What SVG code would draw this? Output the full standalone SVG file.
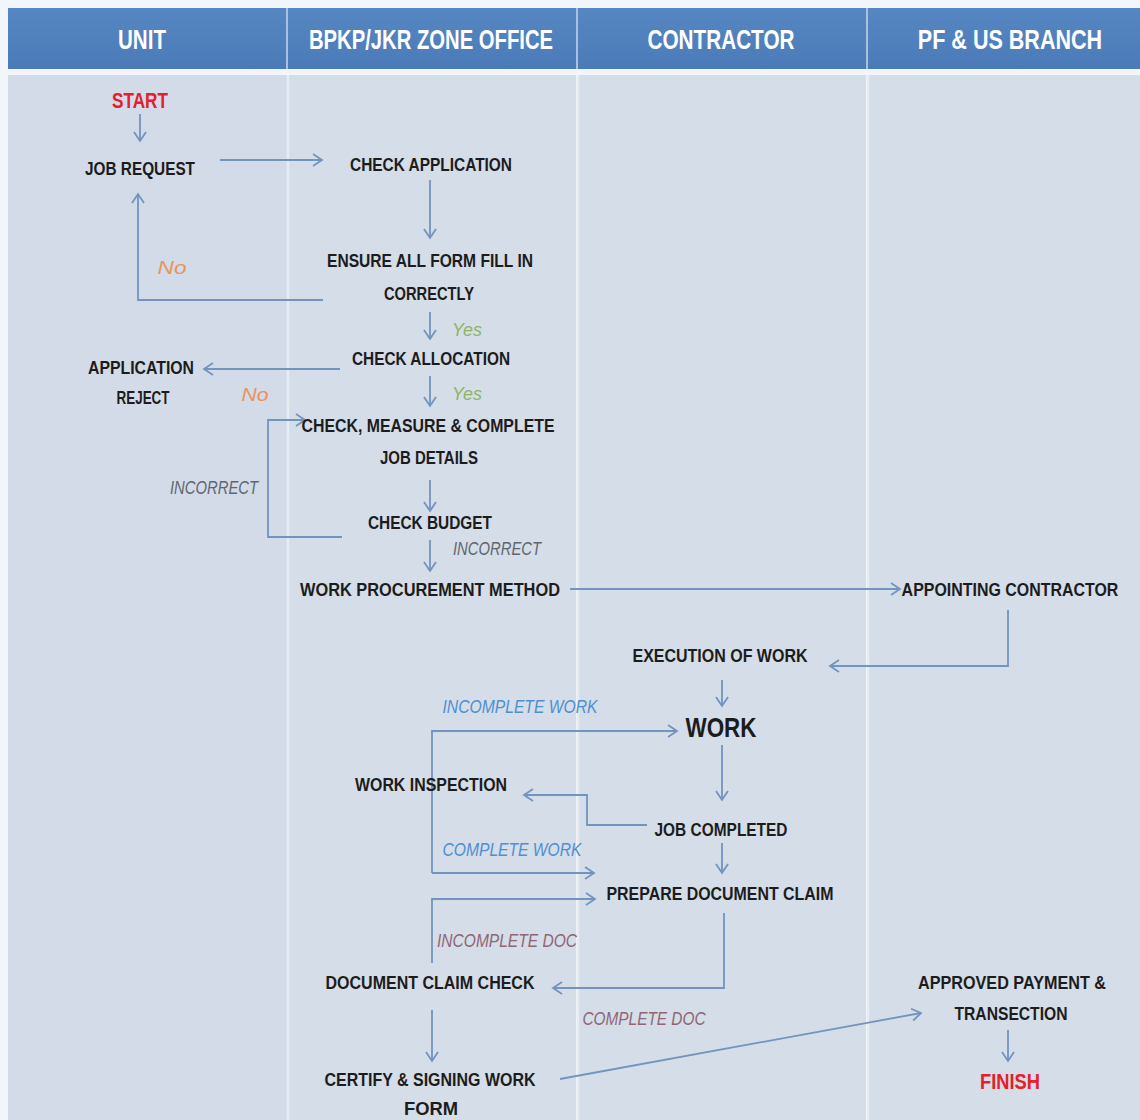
<svg xmlns="http://www.w3.org/2000/svg" width="1140" height="1120" viewBox="0 0 1140 1120">
<style>
.t{font-family:"Liberation Sans",Arial,sans-serif;font-weight:bold;font-size:19px;fill:#1c1c1c;text-anchor:middle;}
.h{font-family:"Liberation Sans",Arial,sans-serif;font-weight:bold;font-size:28px;fill:#ffffff;text-anchor:middle;}
.red{fill:#e3202b;font-size:22px;}
.big{font-size:28px;}
.lbl{font-family:"Liberation Sans",Arial,sans-serif;font-style:italic;font-size:19px;text-anchor:middle;}
.no{fill:#e8935a;}
.yes{fill:#8fb564;}
.grey{fill:#5f6670;}
.blue{fill:#4f8fd0;}
.mauve{fill:#8f6676;}
.c{fill:none;stroke:#7294c0;stroke-width:1.8;}
</style>
<defs>
<marker id="a" markerUnits="userSpaceOnUse" markerWidth="14" markerHeight="14" refX="11" refY="7" orient="auto">
<path d="M2,1 L11,7 L2,13" fill="none" stroke="#7294c0" stroke-width="1.8"/>
</marker>
<linearGradient id="hg" x1="0" y1="0" x2="0" y2="1">
<stop offset="0" stop-color="#5787c2"/>
<stop offset="1" stop-color="#4a7bb8"/>
</linearGradient>
</defs>
<rect x="0" y="0" width="1140" height="1120" fill="#f2f5f9"/>
<g id="header">
<rect x="8" y="8" width="1132" height="61" fill="url(#hg)"/>
<line x1="287" y1="8" x2="287" y2="69" stroke="#a9c1df" stroke-width="2"/>
<line x1="577" y1="8" x2="577" y2="69" stroke="#a9c1df" stroke-width="2"/>
<line x1="867" y1="8" x2="867" y2="69" stroke="#a9c1df" stroke-width="2"/>
<text class="h" x="142" y="49" textLength="48" lengthAdjust="spacingAndGlyphs">UNIT</text>
<text class="h" x="431" y="49" textLength="244" lengthAdjust="spacingAndGlyphs">BPKP/JKR ZONE OFFICE</text>
<text class="h" x="721" y="49" textLength="147" lengthAdjust="spacingAndGlyphs">CONTRACTOR</text>
<text class="h" transform="translate(1010,49) scale(0.77,1)" x="0" y="0">PF &amp; US BRANCH</text>
</g>
<g id="lanes">
<rect x="8" y="75" width="279" height="1045" fill="#d2dbe7"/>
<rect x="289" y="75" width="287" height="1045" fill="#d5dde8"/>
<rect x="579" y="75" width="287" height="1045" fill="#d5dde8"/>
<rect x="869" y="75" width="271" height="1045" fill="#d5dde8"/>
<line x1="288" y1="75" x2="288" y2="1120" stroke="#e6ecf4" stroke-width="2.5"/>
<line x1="578" y1="75" x2="578" y2="1120" stroke="#e6ecf4" stroke-width="2.5"/>
<line x1="868" y1="75" x2="868" y2="1120" stroke="#e6ecf4" stroke-width="2.5"/>
</g>
<g id="connectors">
<line class="c" x1="140" y1="114" x2="140" y2="141" marker-end="url(#a)"/>
<line class="c" x1="220" y1="160" x2="322" y2="160" marker-end="url(#a)"/>
<line class="c" x1="430" y1="180" x2="430" y2="238" marker-end="url(#a)"/>
<polyline class="c" points="323,300 138,300 138,194" marker-end="url(#a)"/>
<line class="c" x1="430" y1="312" x2="430" y2="339" marker-end="url(#a)"/>
<line class="c" x1="340" y1="369" x2="204" y2="369" marker-end="url(#a)"/>
<line class="c" x1="430" y1="376" x2="430" y2="406" marker-end="url(#a)"/>
<polyline class="c" points="342,537 268,537 268,420 305,420" marker-end="url(#a)"/>
<line class="c" x1="430" y1="480" x2="430" y2="511" marker-end="url(#a)"/>
<line class="c" x1="430" y1="540" x2="430" y2="571" marker-end="url(#a)"/>
<line class="c" x1="570" y1="589" x2="900" y2="589" marker-end="url(#a)"/>
<polyline class="c" points="1008,610 1008,666 830,666" marker-end="url(#a)"/>
<line class="c" x1="722" y1="680" x2="722" y2="706" marker-end="url(#a)"/>
<polyline class="c" points="432,873 432,731 677,731" marker-end="url(#a)"/>
<line class="c" x1="432" y1="873" x2="594" y2="873" marker-end="url(#a)"/>
<line class="c" x1="722" y1="745" x2="722" y2="800" marker-end="url(#a)"/>
<polyline class="c" points="647,825 587,825 587,795 524,795" marker-end="url(#a)"/>
<line class="c" x1="722" y1="843" x2="722" y2="873" marker-end="url(#a)"/>
<polyline class="c" points="432,963 432,899 595,899" marker-end="url(#a)"/>
<polyline class="c" points="724,913 724,988 553,988" marker-end="url(#a)"/>
<line class="c" x1="432" y1="1010" x2="432" y2="1061" marker-end="url(#a)"/>
<line class="c" x1="560" y1="1079" x2="921" y2="1013" marker-end="url(#a)"/>
<line class="c" x1="1008" y1="1030" x2="1008" y2="1061" marker-end="url(#a)"/>
</g>
<g id="labels">
<text class="lbl no" x="172" y="274" textLength="29" lengthAdjust="spacingAndGlyphs">No</text>
<text class="lbl yes" x="467" y="336" textLength="30" lengthAdjust="spacingAndGlyphs">Yes</text>
<text class="lbl no" x="255" y="401" textLength="27" lengthAdjust="spacingAndGlyphs">No</text>
<text class="lbl yes" x="467" y="400" textLength="30" lengthAdjust="spacingAndGlyphs">Yes</text>
<text class="lbl grey" x="214" y="494" textLength="88" lengthAdjust="spacingAndGlyphs">INCORRECT</text>
<text class="lbl grey" x="497" y="555" textLength="88" lengthAdjust="spacingAndGlyphs">INCORRECT</text>
<text class="lbl blue" x="520" y="713" textLength="155" lengthAdjust="spacingAndGlyphs">INCOMPLETE WORK</text>
<text class="lbl blue" x="512" y="856" textLength="139" lengthAdjust="spacingAndGlyphs">COMPLETE WORK</text>
<text class="lbl mauve" x="507" y="947" textLength="140" lengthAdjust="spacingAndGlyphs">INCOMPLETE DOC</text>
<text class="lbl mauve" x="644" y="1025" textLength="123" lengthAdjust="spacingAndGlyphs">COMPLETE DOC</text>
</g>
<g id="start"><text class="t red" x="140" y="108" textLength="56" lengthAdjust="spacingAndGlyphs">START</text></g>
<g id="job-request"><text class="t" x="140" y="175" textLength="110" lengthAdjust="spacingAndGlyphs">JOB REQUEST</text></g>
<g id="check-application"><text class="t" x="431" y="171" textLength="162" lengthAdjust="spacingAndGlyphs">CHECK APPLICATION</text></g>
<g id="ensure-form">
<text class="t" x="430" y="267" textLength="206" lengthAdjust="spacingAndGlyphs">ENSURE ALL FORM FILL IN</text>
<text class="t" x="429" y="300" textLength="90" lengthAdjust="spacingAndGlyphs">CORRECTLY</text>
</g>
<g id="check-allocation"><text class="t" x="431" y="365" textLength="158" lengthAdjust="spacingAndGlyphs">CHECK ALLOCATION</text></g>
<g id="application-reject">
<text class="t" x="141" y="374" textLength="106" lengthAdjust="spacingAndGlyphs">APPLICATION</text>
<text class="t" x="143" y="404" textLength="53" lengthAdjust="spacingAndGlyphs">REJECT</text>
</g>
<g id="check-measure">
<text class="t" x="428" y="432" textLength="253" lengthAdjust="spacingAndGlyphs">CHECK, MEASURE &amp; COMPLETE</text>
<text class="t" x="429" y="464" textLength="98" lengthAdjust="spacingAndGlyphs">JOB DETAILS</text>
</g>
<g id="check-budget"><text class="t" x="430" y="529" textLength="124" lengthAdjust="spacingAndGlyphs">CHECK BUDGET</text></g>
<g id="work-procurement"><text class="t" x="430" y="596" textLength="260" lengthAdjust="spacingAndGlyphs">WORK PROCUREMENT METHOD</text></g>
<g id="appointing-contractor"><text class="t" transform="translate(1010,596) scale(0.84,1)" x="0" y="0">APPOINTING CONTRACTOR</text></g>
<g id="execution-of-work"><text class="t" x="720" y="662" textLength="175" lengthAdjust="spacingAndGlyphs">EXECUTION OF WORK</text></g>
<g id="work"><text class="t big" x="721" y="737" textLength="71" lengthAdjust="spacingAndGlyphs">WORK</text></g>
<g id="work-inspection"><text class="t" x="431" y="791" textLength="152" lengthAdjust="spacingAndGlyphs">WORK INSPECTION</text></g>
<g id="job-completed"><text class="t" x="721" y="836" textLength="133" lengthAdjust="spacingAndGlyphs">JOB COMPLETED</text></g>
<g id="prepare-document-claim"><text class="t" x="720" y="900" textLength="227" lengthAdjust="spacingAndGlyphs">PREPARE DOCUMENT CLAIM</text></g>
<g id="document-claim-check"><text class="t" x="430" y="989" textLength="209" lengthAdjust="spacingAndGlyphs">DOCUMENT CLAIM CHECK</text></g>
<g id="certify-signing">
<text class="t" x="430" y="1086" textLength="211" lengthAdjust="spacingAndGlyphs">CERTIFY &amp; SIGNING WORK</text>
<text class="t" x="431" y="1115" textLength="54" lengthAdjust="spacingAndGlyphs">FORM</text>
</g>
<g id="approved-payment">
<text class="t" x="1012" y="989" textLength="188" lengthAdjust="spacingAndGlyphs">APPROVED PAYMENT &amp;</text>
<text class="t" x="1011" y="1020" textLength="113" lengthAdjust="spacingAndGlyphs">TRANSECTION</text>
</g>
<g id="finish"><text class="t red" x="1010" y="1089" textLength="60" lengthAdjust="spacingAndGlyphs">FINISH</text></g>
</svg>
